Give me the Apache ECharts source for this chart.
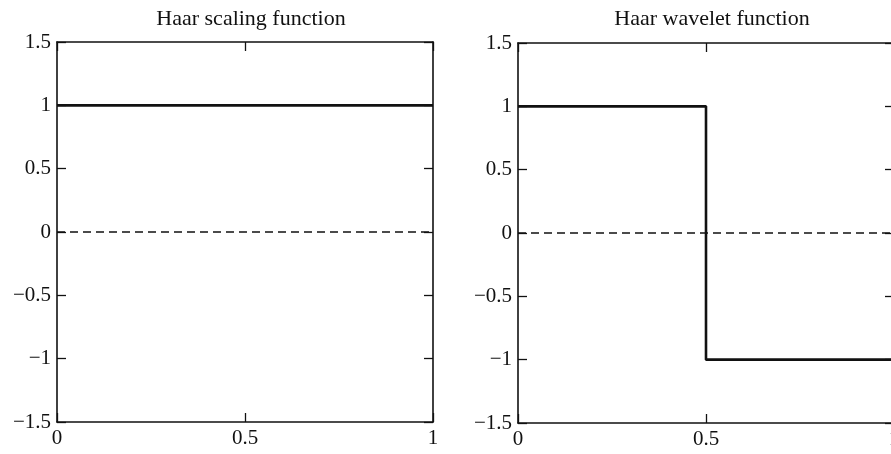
<!DOCTYPE html>
<html><head><meta charset="utf-8">
<script src="https://cdn.jsdelivr.net/npm/echarts@6/dist/echarts.min.js"></script>
<style>html,body{margin:0;padding:0;background:#fff}#c{width:891px;height:454px}</style>
</head><body><div id="c"></div>
<script>
var titles = ['Haar scaling function', 'Haar wavelet function'];
var scalingPts = [[0, 1], [1, 1]];
var waveletPts = [[0, 1], [0.5, 1], [0.5, -1], [1, -1]];
var zeroPts = [[0, 0], [1, 0]];
var xTicks = [0, 0.5, 1];
var yTicks = [-1.5, -1, -0.5, 0, 0.5, 1, 1.5];

var font = 'Liberation Serif';
function fmt(v) { return String(v).replace('-', '\u2212'); }
var chart = echarts.init(document.getElementById('c'), null, {renderer: 'canvas'});
var grids = [
  {left: 57, top: 42, width: 376, height: 380, containLabel: false, outerBoundsMode: 'none'},
  {left: 518, top: 43, width: 376, height: 380, containLabel: false, outerBoundsMode: 'none'}
];
var xAxes = [], yAxes = [];
grids.forEach(function (g, i) {
  var line = {show: true, onZero: false, lineStyle: {color: '#111', width: 1.6}};
  var tick = {show: true, inside: true, length: 9, lineStyle: {color: '#111', width: 1.3}};
  xAxes.push({type: 'value', gridIndex: i, position: 'bottom', min: 0, max: 1, interval: 0.5,
    axisLine: line, axisTick: tick, splitLine: {show: false},
    axisLabel: {color: '#111', fontFamily: font, fontSize: 21, margin: 6, formatter: fmt}});
  xAxes.push({type: 'value', gridIndex: i, position: 'top', min: 0, max: 1, interval: 0.5,
    axisLine: line, axisTick: tick, splitLine: {show: false}, axisLabel: {show: false}});
  yAxes.push({type: 'value', gridIndex: i, position: 'left', min: -1.5, max: 1.5, interval: 0.5,
    axisLine: line, axisTick: tick, splitLine: {show: false},
    axisLabel: {color: '#111', fontFamily: font, fontSize: 21, margin: 6, formatter: fmt}});
  yAxes.push({type: 'value', gridIndex: i, position: 'right', min: -1.5, max: 1.5, interval: 0.5,
    axisLine: line, axisTick: tick, splitLine: {show: false}, axisLabel: {show: false}});
});
function ser(data, gi, dashed) {
  return {type: 'line', xAxisIndex: gi * 2, yAxisIndex: gi * 2, data: data, symbol: 'none',
    silent: true, animation: false, z: dashed ? 2 : 3,
    lineStyle: dashed ? {color: '#111', width: 1.4, type: [8, 5]} : {color: '#111', width: 2.6}};
}
chart.setOption({
  animation: false,
  title: [
    {text: titles[0], left: 246, top: 3, textAlign: 'center',
     textStyle: {fontFamily: font, fontSize: 22, fontWeight: 'normal', color: '#111'}},
    {text: titles[1], left: 707, top: 3, textAlign: 'center',
     textStyle: {fontFamily: font, fontSize: 22, fontWeight: 'normal', color: '#111'}}
  ],
  grid: grids,
  xAxis: xAxes,
  yAxis: yAxes,
  series: [
    ser(zeroPts, 0, true), ser(scalingPts, 0, false),
    ser(zeroPts, 1, true), ser(waveletPts, 1, false)
  ]
});
</script></body></html>
